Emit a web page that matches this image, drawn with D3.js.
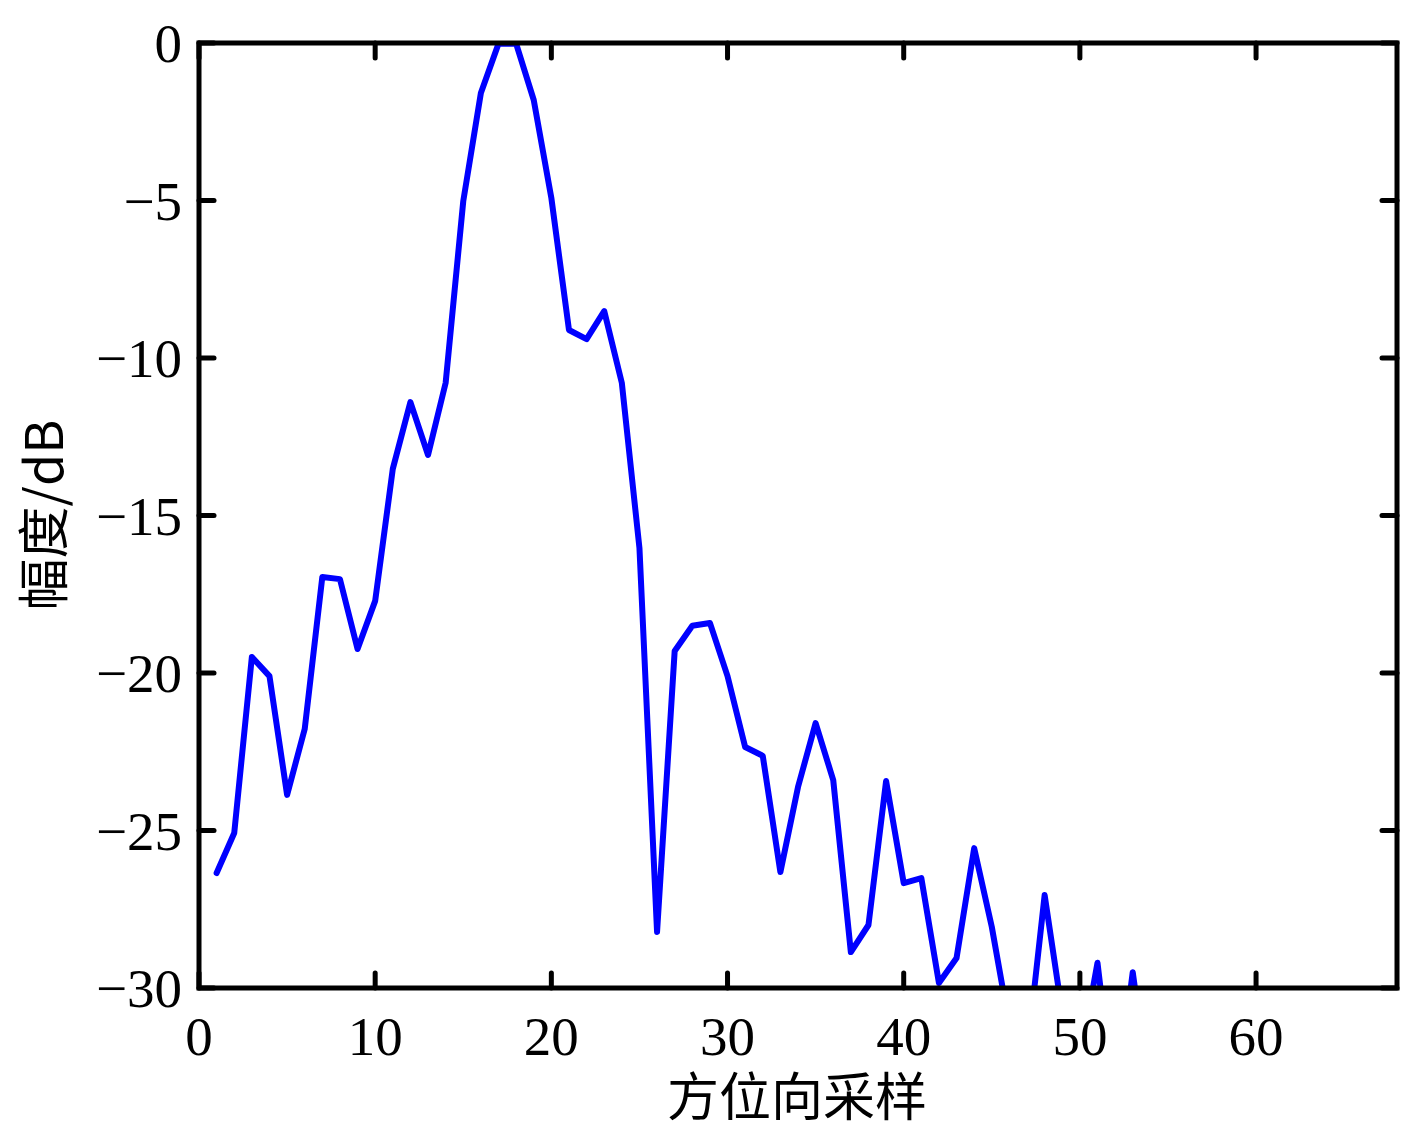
<!DOCTYPE html>
<html><head><meta charset="utf-8">
<script src="https://cdn.jsdelivr.net/npm/d3@7"></script>
<style>body{margin:0;background:#fff;} svg{display:block;}</style>
</head><body>
<script>
const samples = d3.range(1, 65);
const amplitudeDb = [
 -26.35,-25.08,-19.49,-20.10,-23.87,-21.78,-16.95,-17.02,-19.24,-17.71,
 -13.52,-11.40,-13.08,-10.79,-5.02,-1.59,-0.02,-0.02,-1.81,-4.92,
 -9.11,-9.40,-8.51,-10.79,-16.03,-28.22,-19.30,-18.50,-18.41,-20.10,
 -22.35,-22.63,-26.32,-23.62,-21.59,-23.40,-28.86,-28.00,-23.43,-26.67,
 -26.51,-29.84,-29.05,-25.56,-28.06,-31.2,-32.1,-27.05,-30.8,-32.3,
 -29.2,-33.9,-29.5,-33.5,-35.0,-36.2,-34.8,-37.5,-36.0,-38.2,
 -37.0,-39.5,-38.4,-40.0
];
const xTicks = [0,10,20,30,40,50,60];
const yTicks = [0,-5,-10,-15,-20,-25,-30];
const xLabel = "方位向采样";
const yLabel = "幅度/dB";

const W = 1401, H = 1132;
const L = 199, R = 1397, T = 43, B = 988;
const svg = d3.select("body").append("svg").attr("width", W).attr("height", H);
const x = d3.scaleLinear().domain([0, 68]).range([L, R]);
const y = d3.scaleLinear().domain([-30, 0]).range([B, T]);

svg.append("defs").append("clipPath").attr("id","clip")
  .append("rect").attr("x", L).attr("y", T).attr("width", R-L).attr("height", B-T);

const data = samples.map((s,i)=>({s, v: amplitudeDb[i]}));
svg.append("path").datum(data)
  .attr("clip-path","url(#clip)")
  .attr("fill","none").attr("stroke","#0000ff").attr("stroke-width",6)
  .attr("stroke-linejoin","round").attr("stroke-linecap","round")
  .attr("d", d3.line().x(d=>x(d.s)).y(d=>y(d.v)));

const font = "'Liberation Serif','Times New Roman',serif";
const tk = 15;
const g = svg.append("g").attr("stroke","#000").attr("stroke-width",5).attr("stroke-linecap","round");
xTicks.forEach(t=>{
  g.append("line").attr("x1",x(t)).attr("x2",x(t)).attr("y1",B).attr("y2",B-tk);
  g.append("line").attr("x1",x(t)).attr("x2",x(t)).attr("y1",T).attr("y2",T+tk);
});
yTicks.forEach(t=>{
  g.append("line").attr("x1",L).attr("x2",L+tk).attr("y1",y(t)).attr("y2",y(t));
  g.append("line").attr("x1",R).attr("x2",R-tk).attr("y1",y(t)).attr("y2",y(t));
});
svg.append("rect").attr("x",L).attr("y",T).attr("width",R-L).attr("height",B-T)
  .attr("fill","none").attr("stroke","#000").attr("stroke-width",5);

xTicks.forEach(t=>{
  svg.append("text").attr("x",x(t)).attr("y",1055).attr("text-anchor","middle")
    .attr("font-family",font).attr("font-size",55).text(String(t));
});
yTicks.forEach(t=>{
  svg.append("text").attr("x",182).attr("y",y(t)+19).attr("text-anchor","end")
    .attr("font-family",font).attr("font-size",55).text(t===0?"0":"\u2212"+Math.abs(t));
});
svg.append("text").attr("x",797).attr("y",1116).attr("text-anchor","middle")
  .attr("font-family","'Noto Sans CJK SC',sans-serif").attr("font-size",52).text(xLabel);
svg.append("text").attr("transform","translate(63,515) rotate(-90)").attr("text-anchor","middle")
  .attr("font-family","'Noto Sans CJK SC',sans-serif").attr("font-size",52).text(yLabel);
</script>
</body></html>
